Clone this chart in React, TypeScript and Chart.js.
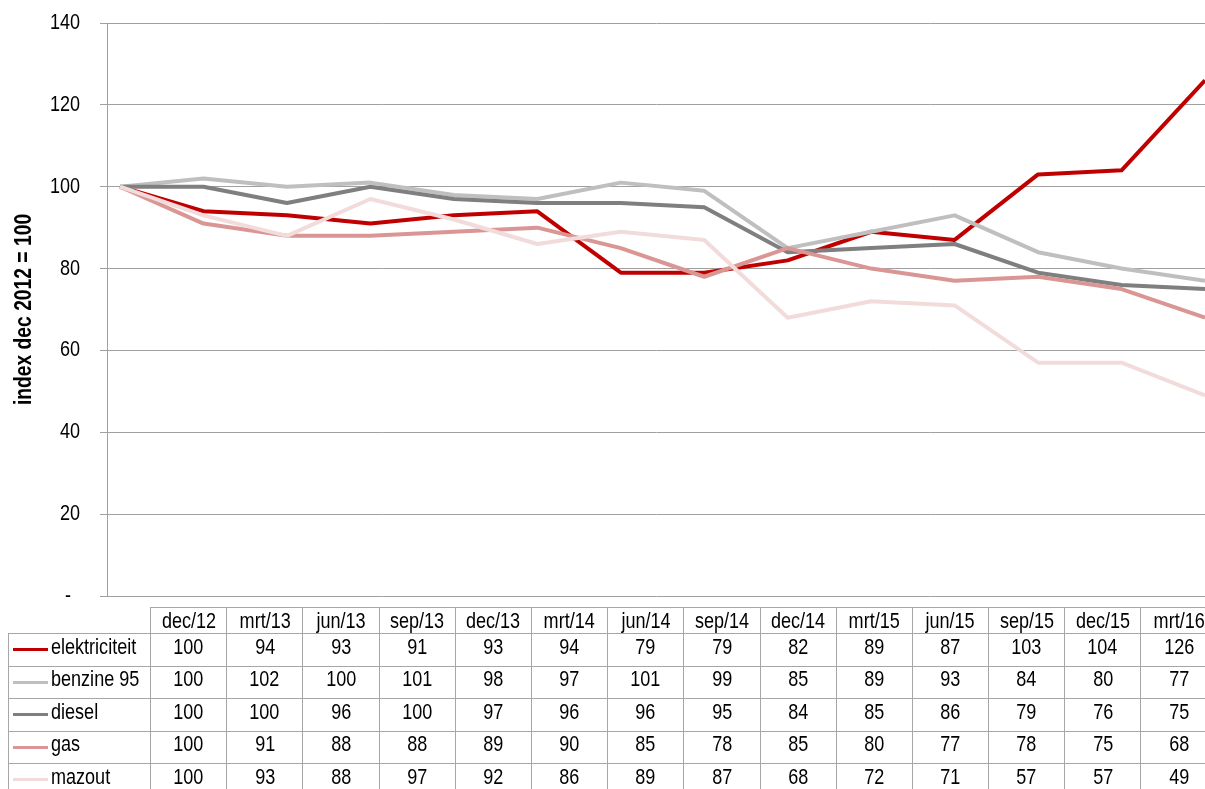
import React, { useEffect, useRef } from "react";
import { Chart, registerables } from "chart.js";

Chart.register(...registerables);

const categories = ["dec/12", "mrt/13", "jun/13", "sep/13", "dec/13", "mrt/14", "jun/14", "sep/14", "dec/14", "mrt/15", "jun/15", "sep/15", "dec/15", "mrt/16"];
const elektriciteit = [100, 94, 93, 91, 93, 94, 79, 79, 82, 89, 87, 103, 104, 126];
const benzine95 = [100, 102, 100, 101, 98, 97, 101, 99, 85, 89, 93, 84, 80, 77];
const diesel = [100, 100, 96, 100, 97, 96, 96, 95, 84, 85, 86, 79, 76, 75];
const gas = [100, 91, 88, 88, 89, 90, 85, 78, 85, 80, 77, 78, 75, 68];
const mazout = [100, 93, 88, 97, 92, 86, 89, 87, 68, 72, 71, 57, 57, 49];

const seriesNames = ["elektriciteit", "benzine 95", "diesel", "gas", "mazout"];
const seriesColors = ["#C00000", "#BFBFBF", "#7F7F7F", "#D99694", "#F2DCDB"];
const yAxisTitle = "index dec 2012 = 100";
const yMin = 0;
const yMax = 140;
const yStep = 20;

const SANS = "'Liberation Sans', Arial, sans-serif";
const NARROW = 0.82;
const GRID = "#A0A0A0";
const BORDER = "1px solid #A6A6A6";
const COL_W = 76.2;

const formatTick = (v: number) => (v === 0 ? "-\u2002" : String(v));

// Draws the y tick labels and axis title in a condensed (Arial Narrow-like) style,
// positioned from the library's own y scale.
const narrowAxisText = {
  id: "narrowAxisText",
  afterDraw(chart: any) {
    const ctx = chart.ctx as CanvasRenderingContext2D;
    const ys = chart.scales.y;
    const area = chart.chartArea;
    ctx.save();
    ctx.fillStyle = "#000";
    ctx.font = `22px ${SANS}`;
    ctx.textAlign = "right";
    ctx.textBaseline = "middle";
    const labelRight = ys.right - 7 - 20;
    ys.ticks.forEach((t: any) => {
      const y = ys.getPixelForValue(t.value);
      ctx.save();
      ctx.translate(labelRight, y);
      ctx.scale(NARROW, 1);
      ctx.fillText(formatTick(t.value), 0, 0);
      ctx.restore();
    });
    ctx.font = `bold 23.5px ${SANS}`;
    ctx.textAlign = "center";
    ctx.translate(25, (area.top + area.bottom) / 2);
    ctx.rotate(-Math.PI / 2);
    ctx.scale(NARROW, 1);
    ctx.fillText(yAxisTitle, 0, 0);
    ctx.restore();
  },
};

const narrow = (text: string | number, origin = "center") => (
  <span
    style={{
      display: "inline-block",
      transform: `scaleX(${NARROW})`,
      transformOrigin: origin,
      whiteSpace: "nowrap",
    }}
  >
    {text}
  </span>
);

export default function App() {
  const ref = useRef<HTMLCanvasElement>(null);
  const series = [elektriciteit, benzine95, diesel, gas, mazout];

  useEffect(() => {
    document.body.style.margin = "0";
    const chart = new Chart(ref.current!, {
      type: "line",
      data: {
        labels: categories,
        datasets: series.map((vals, i) => ({
          label: seriesNames[i],
          data: vals.map((v, j) => ({ x: j, y: v })),
          borderColor: seriesColors[i],
          backgroundColor: seriesColors[i],
          borderWidth: 4,
          pointRadius: 0,
          tension: 0,
          borderJoinStyle: "round" as const,
          order: series.length - i,
        })),
      },
      options: {
        responsive: false,
        animation: false,
        layout: { padding: { left: 0, right: 0, top: 23, bottom: 193 } },
        plugins: { legend: { display: false }, tooltip: { enabled: false } },
        scales: {
          x: { type: "linear", min: -0.156, max: 13, display: false },
          y: {
            min: yMin,
            max: yMax,
            ticks: { stepSize: yStep, display: false },
            grid: { color: GRID, tickLength: 7, lineWidth: 1 },
            border: { color: GRID },
            title: { display: false, text: yAxisTitle },
            afterFit: (s: any) => {
              s.width = 107;
            },
          },
        },
      },
      plugins: [narrowAxisText],
    });
    return () => chart.destroy();
  }, []);

  return (
    <div style={{ position: "relative", width: 1205, height: 789, overflow: "hidden", background: "#fff" }}>
      <canvas ref={ref} width={1205} height={789} style={{ position: "absolute", left: 0, top: 0 }} />
      <table
        style={{
          position: "absolute",
          left: 8,
          top: 607,
          borderCollapse: "collapse",
          tableLayout: "fixed",
          width: 142 + 14 * COL_W,
          fontFamily: SANS,
          fontSize: 22,
          color: "#000",
        }}
      >
        <colgroup>
          <col style={{ width: 142 }} />
          {categories.map((c) => (
            <col key={c} style={{ width: COL_W }} />
          ))}
        </colgroup>
        <thead>
          <tr style={{ height: 26 }}>
            <th style={{ border: "none", borderBottom: BORDER, padding: 0 }}></th>
            {categories.map((c) => (
              <th key={c} style={{ border: BORDER, fontWeight: "normal", padding: 0, textAlign: "center", lineHeight: "24px" }}>
                {narrow(c)}
              </th>
            ))}
          </tr>
        </thead>
        <tbody>
          {series.map((vals, i) => (
            <tr key={seriesNames[i]} style={{ height: 32.5 }}>
              <td style={{ border: BORDER, padding: 0, whiteSpace: "nowrap", position: "relative" }}>
                <span
                  style={{
                    position: "absolute",
                    left: 4,
                    top: "calc(50% - 1.5px)",
                    width: 35,
                    height: 3,
                    background: seriesColors[i],
                  }}
                />
                <span style={{ position: "relative", top: -3, paddingLeft: 42 }}>{narrow(seriesNames[i], "left center")}</span>
              </td>
              {vals.map((v, j) => (
                <td key={j} style={{ border: BORDER, textAlign: "center", padding: 0 }}>
                  <span style={{ position: "relative", top: -3 }}>{narrow(v)}</span>
                </td>
              ))}
            </tr>
          ))}
        </tbody>
      </table>
    </div>
  );
}
